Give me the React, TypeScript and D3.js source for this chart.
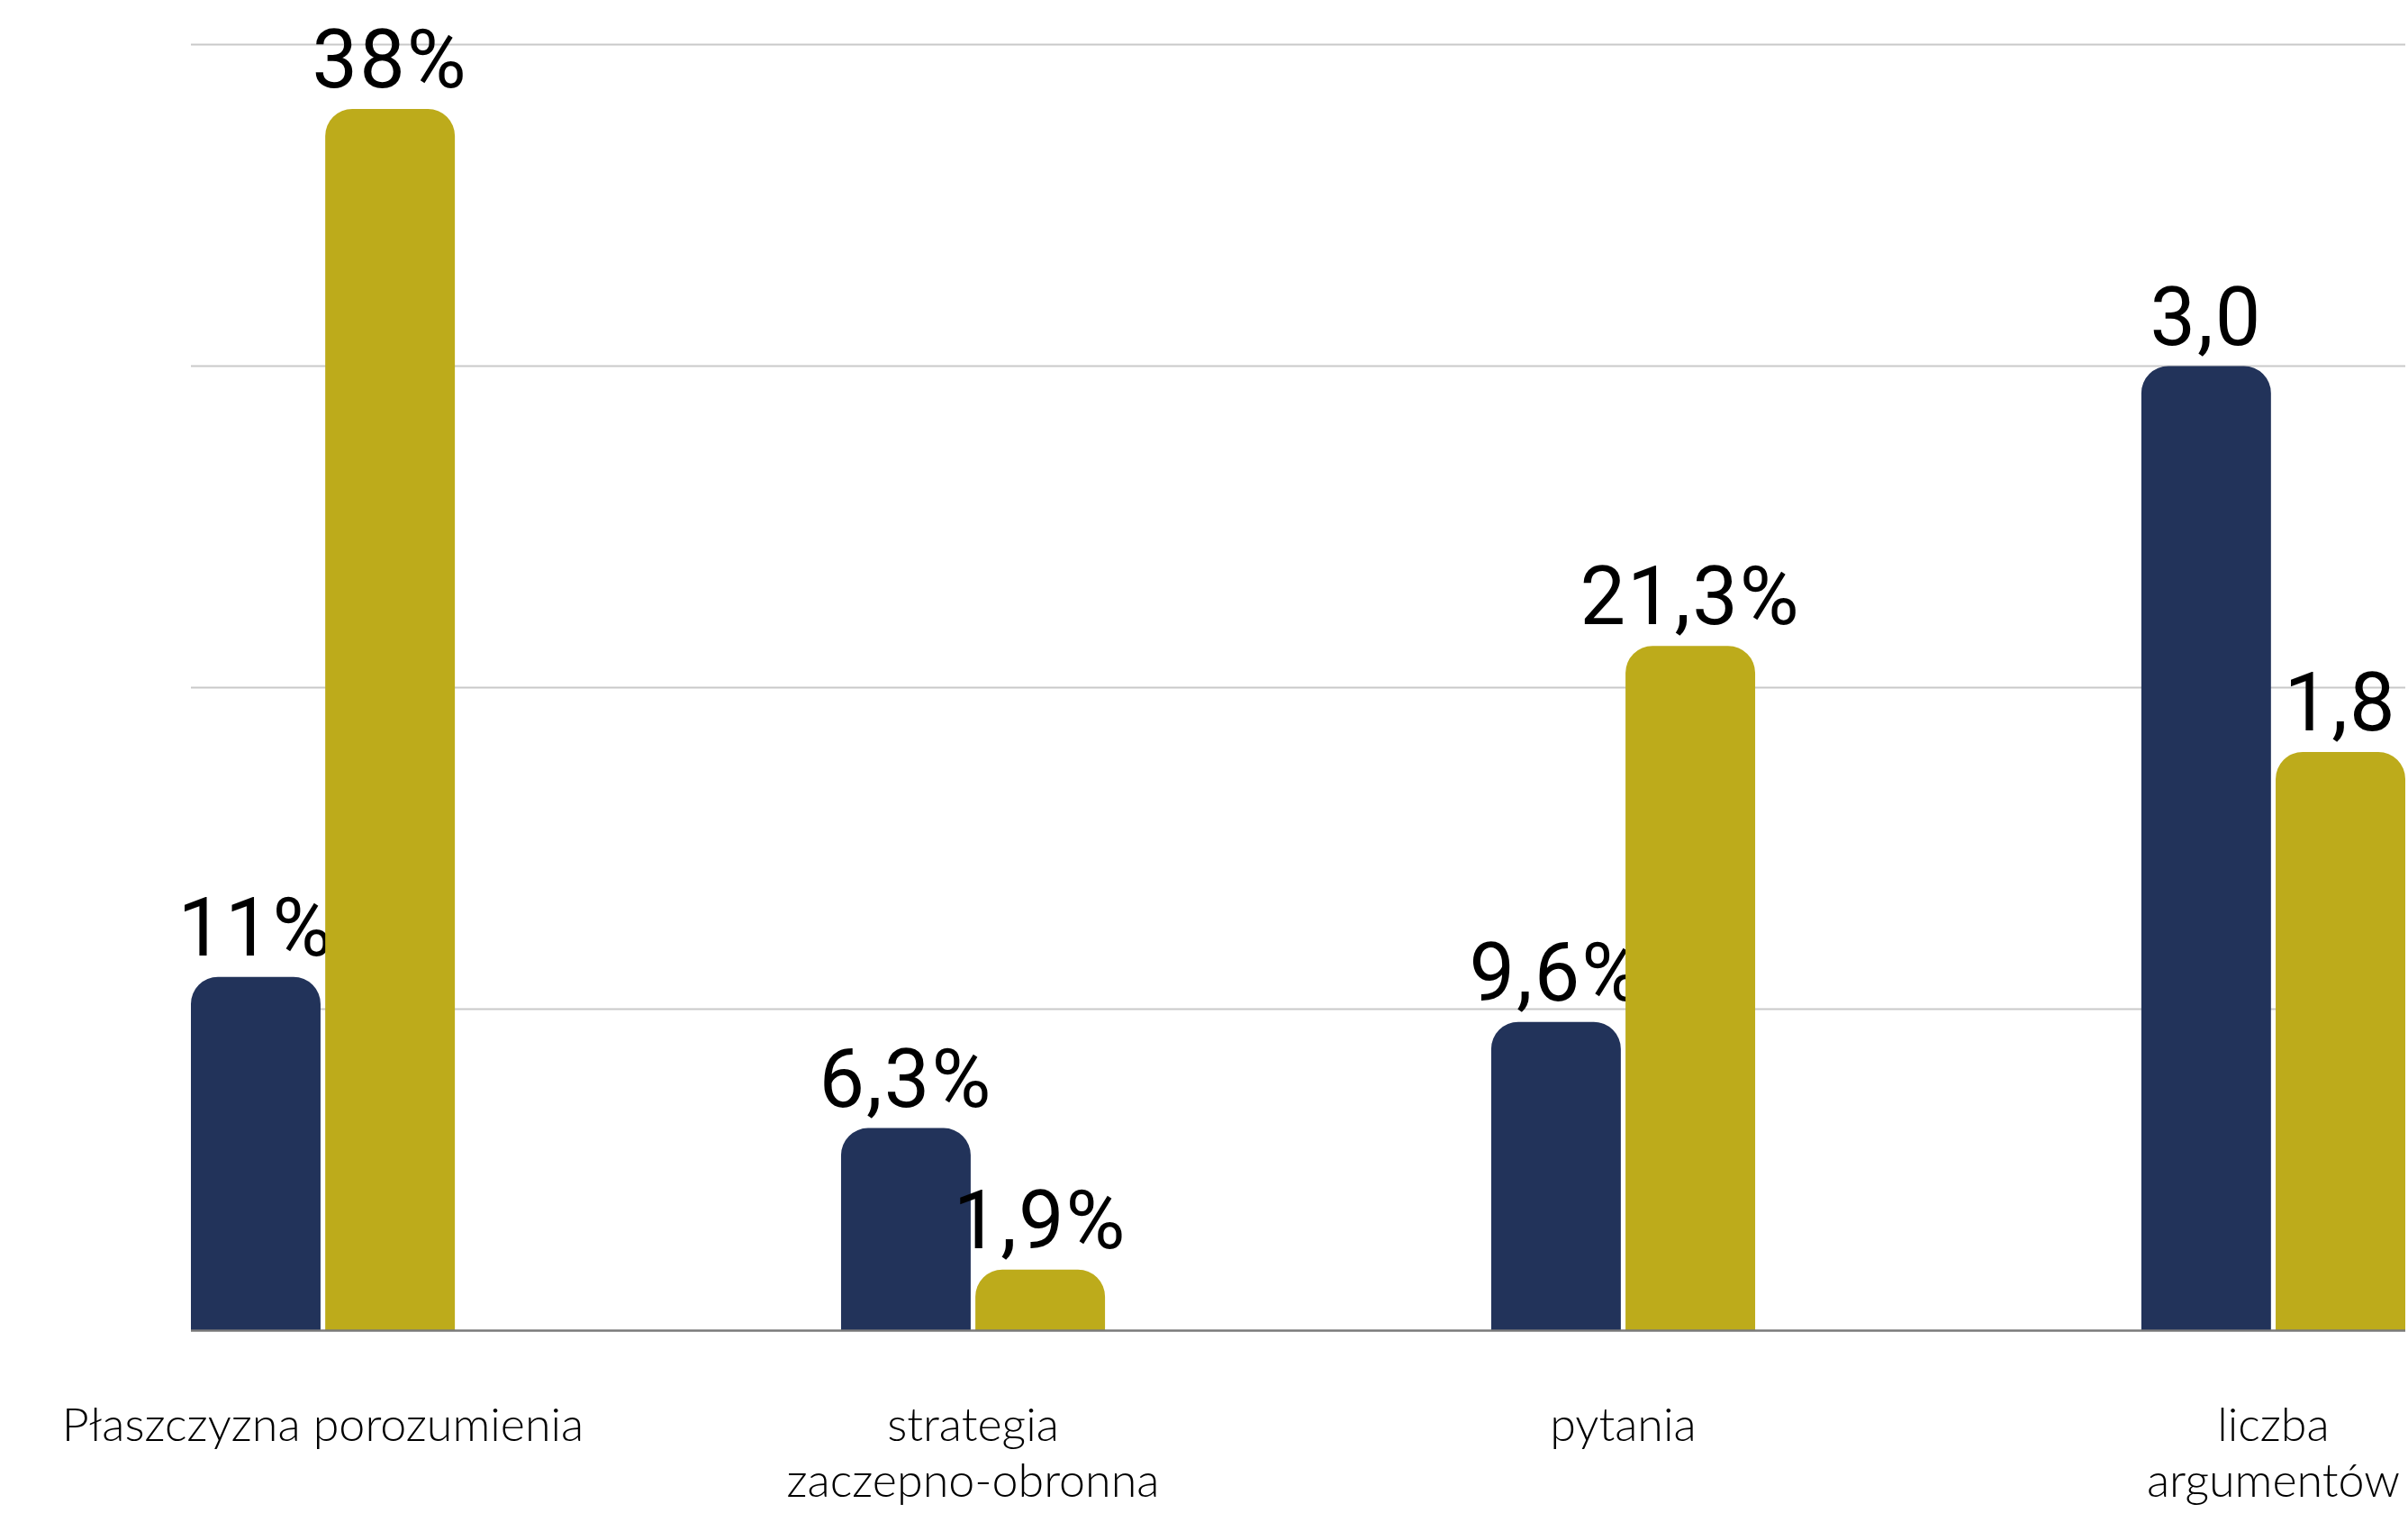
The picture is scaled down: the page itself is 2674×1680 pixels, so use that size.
import React from "react";
import * as d3 from "d3";

const categories: string[][] = [
  ["Płaszczyzna porozumienia"],
  ["strategia", "zaczepno-obronna"],
  ["pytania"],
  ["liczba", "argumentów"],
];
const seriesA: number[] = [11, 6.3, 9.6, 30];
const seriesB: number[] = [38, 1.9, 21.3, 18];
const labelsA: string[] = ["11%", "6,3%", "9,6%", "3,0"];
const labelsB: string[] = ["38%", "1,9%", "21,3%", "1,8"];
const gridTicks: number[] = [0, 10, 20, 30, 40];

const W = 2674;
const H = 1680;
const M = { left: 212, right: 3, top: 49.6, bottom: 1477.5 };
const COLORS = ["#22335A", "#BDAB1B"];

function topRounded(x: number, y: number, w: number, h: number, r: number) {
  const rr = Math.min(r, w / 2, h);
  const p = d3.path();
  p.moveTo(x, y + h);
  p.lineTo(x, y + rr);
  p.arcTo(x, y, x + rr, y, rr);
  p.lineTo(x + w - rr, y);
  p.arcTo(x + w, y, x + w, y + rr, rr);
  p.lineTo(x + w, y + h);
  p.closePath();
  return p.toString();
}

export default function App() {
  const idx = categories.map((_, i) => String(i));
  const x0 = d3.scaleBand<string>().domain(idx).range([M.left, W - M.right]).paddingInner(0.594).paddingOuter(0);
  const x1 = d3.scaleBand<string>().domain(["a", "b"]).range([0, x0.bandwidth()]).paddingInner(0.035);
  const y = d3.scaleLinear().domain([0, 40]).range([M.bottom, M.top]);
  const series = [
    { key: "a", values: seriesA, labels: labelsA, color: COLORS[0] },
    { key: "b", values: seriesB, labels: labelsB, color: COLORS[1] },
  ];
  const valueFont = "Roboto, 'Noto Sans', sans-serif";
  const catFont = "Lato, 'Noto Sans', sans-serif";

  return (
    <div style={{ position: "absolute", left: 0, top: 0 }}>
      <svg width={W} height={H} viewBox={`0 0 ${W} ${H}`} style={{ display: "block", background: "#fff" }}>
        {gridTicks.filter((t) => t > 0).map((t) => (
          <line key={t} x1={M.left} x2={W - M.right} y1={y(t)} y2={y(t)} stroke="#c9c9c9" strokeWidth={2} />
        ))}
        {idx.map((c, i) => (
          <g key={c} transform={`translate(${x0(c)},0)`}>
            {series.map((s) => {
              const v = s.values[i];
              const bx = x1(s.key)!;
              const bw = x1.bandwidth();
              const top = y(v);
              return (
                <g key={s.key}>
                  <path d={topRounded(bx, top, bw, y(0) - top, 30)} fill={s.color} />
                  <text
                    x={bx + bw / 2}
                    y={top - 24}
                    textAnchor="middle"
                    fontFamily={valueFont}
                    fontSize={90}
                    fontWeight={400}
                    letterSpacing={2}
                    fill="#000"
                  >
                    {s.labels[i]}
                  </text>
                </g>
              );
            })}
          </g>
        ))}
        <line x1={M.left} x2={W - M.right} y1={y(0)} y2={y(0)} stroke="#7a7a7a" strokeWidth={2.5} />
        {idx.map((c, i) => (
          <text
            key={"l" + c}
            x={x0(c)! + x0.bandwidth() / 2}
            y={1600}
            textAnchor="middle"
            fontFamily={catFont}
            fontSize={52}
            fontWeight={300}
            fill="#000"
          >
            {categories[i].map((line, j) => (
              <tspan key={j} x={x0(c)! + x0.bandwidth() / 2} dy={j === 0 ? 0 : 62}>
                {line}
              </tspan>
            ))}
          </text>
        ))}
      </svg>
    </div>
  );
}
